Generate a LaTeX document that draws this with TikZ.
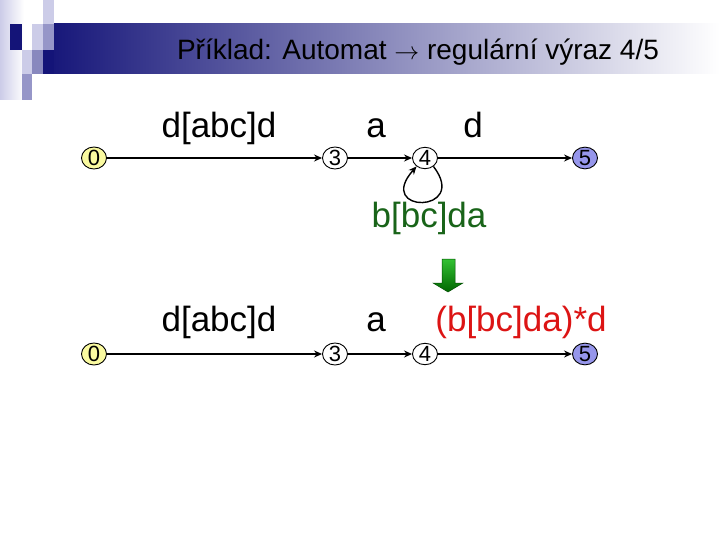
\documentclass[tikz,border=0pt]{standalone}
\usepackage{fontspec}
\setmainfont{Liberation Sans}
\usetikzlibrary{arrows.meta,shapes.geometric}
\definecolor{navy}{RGB}{20,20,120}
\definecolor{lavA}{RGB}{204,204,232}
\definecolor{lavB}{RGB}{150,150,200}
\definecolor{lavC}{RGB}{136,136,190}
\definecolor{stateY}{RGB}{250,250,160}
\definecolor{stateB}{RGB}{150,150,235}
\definecolor{lblgreen}{RGB}{25,100,25}
\definecolor{lblred}{RGB}{220,20,20}
\tikzset{
  state/.style={draw=black,line width=0.9pt,ellipse,minimum width=25pt,minimum height=21pt,inner sep=0pt,font=\fontsize{22}{22}\selectfont,fill=white},
  lbl/.style={anchor=base,font=\fontsize{35}{35}\selectfont},
  trans/.style={line width=1.4pt,-{Stealth[length=8pt,width=7pt]}},
}
\begin{document}
\begin{tikzpicture}[x=1pt,y=-1pt]
\useasboundingbox (0,0) rectangle (720,540);
% decoration
\shade[left color=lavA,right color=white] (0,0) rectangle (24,100);
\shade[left color=navy,right color=white] (43,24) rectangle (720,74);
\fill[navy] (10,24) rectangle (22,50);
\fill[lavA] (32,24) rectangle (43,50);
\fill[lavA] (43,0) rectangle (54,24);
\fill[lavB] (43,24) rectangle (54,50);
\fill[lavA] (22,50) rectangle (32,74);
\fill[lavC] (32,50) rectangle (43,74);
\fill[navy] (43,50) rectangle (54,74);
\fill[lavB] (22,74) rectangle (32,100);
\node[anchor=base,font=\fontsize{28}{28}\selectfont] (title) at (418,60) {Příklad: Automat $\rightarrow$ regulární výraz 4/5};
% row 1
\node[state,fill=stateY] (a0) at (94,158) {0};
\node[state] (a3) at (335,158) {3};
\node[state] (a4) at (425,158) {4};
\node[state,fill=stateB] (a5) at (585,158) {5};
\draw[trans] (a0) -- (a3);
\draw[trans] (a3) -- (a4);
\draw[trans] (a4) -- (a5);
\draw[trans] (a4.-45) .. controls (470,214) and (374,214) .. (a4.-135);
\node[lbl] (l1) at (219,138) {d[abc]d};
\node[lbl] (l2) at (376,138) {a};
\node[lbl] (l3) at (473,138) {d};
\node[lbl,text=lblgreen] (l4) at (429,228) {b[bc]da};
% green arrow
\shade[top color=green!70!black!80,bottom color=green!40!black,draw=green!30!black,line width=0.5pt]
  (442,259) -- (455,259) -- (455,283) -- (463,283) -- (448,292) -- (433,283) -- (442,283) -- cycle;
% row 2
\node[state,fill=stateY] (b0) at (94,354) {0};
\node[state] (b3) at (335,354) {3};
\node[state] (b4) at (425,354) {4};
\node[state,fill=stateB] (b5) at (585,354) {5};
\draw[trans] (b0) -- (b3);
\draw[trans] (b3) -- (b4);
\draw[trans] (b4) -- (b5);
\node[lbl] (m1) at (219,331) {d[abc]d};
\node[lbl] (m2) at (376,331) {a};
\node[lbl,text=lblred] (m3) at (521,331) {(b[bc]da)*d};
\end{tikzpicture}
\end{document}
